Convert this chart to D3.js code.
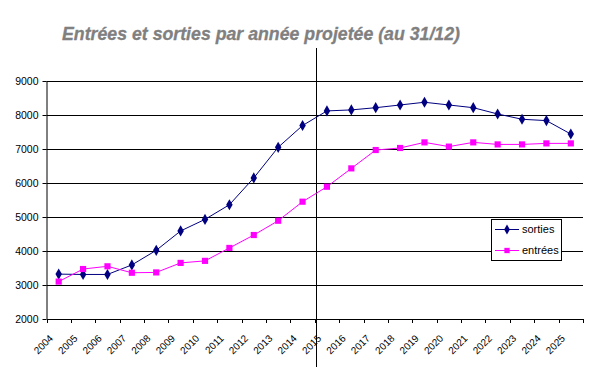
<!DOCTYPE html>
<html><head><meta charset="utf-8">
<script src="https://cdn.jsdelivr.net/npm/d3@7"></script>
<style>body{margin:0;background:#fff}svg{display:block}</style>
</head><body>
<svg id="c" width="589" height="378"></svg>
<script>
const years = ["2004","2005","2006","2007","2008","2009","2010","2011","2012","2013","2014","2015","2016","2017","2018","2019","2020","2021","2022","2023","2024","2025"];
const sorties = [3320,3310,3310,3590,4020,4590,4930,5360,6150,7050,7690,8120,8150,8215,8295,8375,8295,8215,8030,7875,7835,7440];
const entrees = [3100,3470,3550,3360,3370,3650,3710,4090,4470,4890,5450,5890,6430,6970,7030,7195,7070,7195,7135,7135,7165,7165];
const yTicks = [2000,3000,4000,5000,6000,7000,8000,9000];
const seriesNames = ["sorties","entrées"];
const title = "Entrées et sorties par année projetée (au 31/12)";

const svg = d3.select("#c");
const font = "'Liberation Sans', Arial, sans-serif";
const L = 46.5, R = 583, T = 81, B = 319;
const x = d3.scaleBand().domain(years).range([L, R]);
const y = d3.scaleLinear().domain([2000, 9000]).range([B, T]);

// title
svg.append("text").attr("x", 261).attr("y", 40).attr("text-anchor", "middle")
  .attr("font-family", font).attr("font-size", 18.5).attr("font-weight", "bold").attr("font-style", "italic")
  .attr("fill", "#808080").attr("stroke", "#808080").attr("stroke-width", 0.3)
  .attr("textLength", 398).attr("lengthAdjust", "spacingAndGlyphs").text(title);

// gridlines
svg.append("g").selectAll("line").data(yTicks.filter(d => d > 2000)).join("line")
  .attr("x1", L).attr("x2", R).attr("y1", d => Math.round(y(d)) + 0.5).attr("y2", d => Math.round(y(d)) + 0.5)
  .attr("stroke", "#000").attr("stroke-width", 1);

// y axis
const ya = svg.append("g").attr("transform", `translate(${L},0)`)
  .call(d3.axisLeft(y).tickValues(yTicks).tickSize(4).tickSizeOuter(0).tickFormat(d3.format("d")));
ya.select(".domain").attr("stroke", "#000");
ya.selectAll("text").attr("font-family", font).attr("font-size", 10.5).attr("fill", "#000").attr("x", -8);

// x axis
const xa = svg.append("g").attr("transform", `translate(0,${B})`)
  .call(d3.axisBottom(x).tickSize(0).tickSizeOuter(0).tickFormat(""));
xa.select(".domain").attr("stroke", "#000");
const bounds = years.map(d => x(d)).concat([R]);
svg.append("g").selectAll("line").data(bounds).join("line")
  .attr("x1", d => Math.round(d) + 0.5).attr("x2", d => Math.round(d) + 0.5)
  .attr("y1", B).attr("y2", B + 4).attr("stroke", "#000");
svg.append("g").selectAll("text").data(years).join("text")
  .attr("transform", d => `translate(${x(d) + x.bandwidth() / 2 - 5},339) rotate(-45)`)
  .attr("text-anchor", "end").attr("font-family", font).attr("font-size", 10).attr("fill", "#000")
  .text(d => d);

// vertical marker line
const vx = Math.round(x("2015")) + 1.5;
svg.append("line").attr("x1", vx).attr("x2", vx).attr("y1", 48).attr("y2", 367).attr("stroke", "#000");

const cx = d => x(d) + x.bandwidth() / 2;
function drawSeries(vals, color, sym, size) {
  svg.append("path").datum(vals)
    .attr("d", d3.line().x((v, i) => cx(years[i])).y(v => y(v)))
    .attr("fill", "none").attr("stroke", color).attr("stroke-width", 1);
  svg.append("g").selectAll("path").data(vals).join("path")
    .attr("transform", (v, i) => `translate(${cx(years[i])},${y(v)})`)
    .attr("d", d3.symbol().type(sym).size(size)).attr("fill", color);
}
drawSeries(sorties, "#000080", d3.symbolDiamond, 36);
drawSeries(entrees, "#ff00ff", d3.symbolSquare, 38);

// legend
const lg = svg.append("g");
lg.append("rect").attr("x", 491.5).attr("y", 219.5).attr("width", 70).attr("height", 41)
  .attr("fill", "#fff").attr("stroke", "#000");
const items = [{n: seriesNames[0], c: "#000080", s: d3.symbolDiamond, z: 28, y: 229.5},
               {n: seriesNames[1], c: "#ff00ff", s: d3.symbolSquare, z: 28, y: 250.5}];
items.forEach(it => {
  lg.append("line").attr("x1", 495).attr("x2", 519).attr("y1", it.y).attr("y2", it.y).attr("stroke", it.c);
  lg.append("path").attr("transform", `translate(507,${it.y})`).attr("d", d3.symbol().type(it.s).size(it.z)).attr("fill", it.c);
  lg.append("text").attr("x", 522).attr("y", it.y).attr("dy", "0.35em").attr("font-family", font)
    .attr("font-size", 11).attr("fill", "#000").text(it.n);
});
</script>
</body></html>
